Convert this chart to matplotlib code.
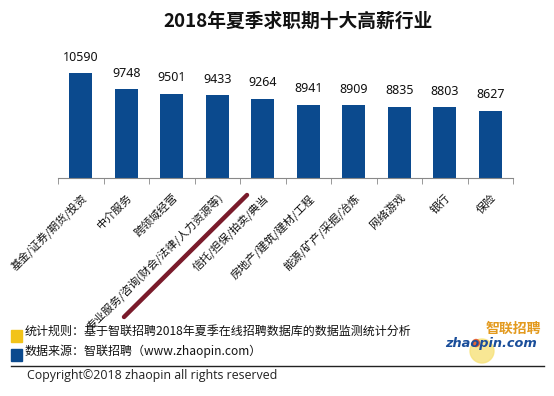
import matplotlib
matplotlib.use("Agg")
import matplotlib.pyplot as plt
from matplotlib.lines import Line2D
from matplotlib.patches import Rectangle, Ellipse

plt.rcParams['font.family'] = ['Noto Sans CJK SC', 'DejaVu Sans']

categories = ["基金/证券/期货/投资", "中介服务", "跨领域经营",
              "专业服务/咨询(财会/法律/人力资源等)", "信托/担保/拍卖/典当",
              "房地产/建筑/建材/工程", "能源/矿产/采掘/冶炼", "网络游戏", "银行", "保险"]
values = [10590, 9748, 9501, 9433, 9264, 8941, 8909, 8835, 8803, 8627]
title = "2018年夏季求职期十大高薪行业"
note1 = "统计规则：基于智联招聘2018年夏季在线招聘数据库的数据监测统计分析"
note2 = "数据来源：智联招聘（www.zhaopin.com）"
copyright_text = "Copyright©2018 zhaopin all rights reserved"

W, H = 554, 396
fig = plt.figure(figsize=(W/100, H/100), dpi=100)
fig.patch.set_facecolor('white')

def fx(px): return px / W
def fy(py): return 1 - py / H

ymin, ymax = 5078, 12000
ax_top_px = 178.3 - (ymax - ymin) * 0.01905
ax = fig.add_axes([fx(58), fy(178.3), fx(513) - fx(58), (178.3 - ax_top_px) / H])
x = list(range(len(categories)))
ax.bar(x, values, width=0.5, color='#0b4a8e')
ax.set_xlim(-0.5, len(categories) - 0.5)
ax.set_ylim(ymin, ymax)
for xi, v in zip(x, values):
    ax.annotate(f"{v}", (xi, v), xytext=(0, 7), textcoords='offset points',
                ha='center', va='bottom', fontsize=9, family=['Noto Sans', 'DejaVu Sans'],
                color='#111111')
for s in ['top', 'right', 'left']:
    ax.spines[s].set_visible(False)
ax.spines['bottom'].set_color('#888888')
ax.set_yticks([])
ax.set_xticks(x)
ax.set_xticklabels(categories, rotation=45, ha='right', rotation_mode='anchor',
                   fontsize=8, color='#111111')
ax.tick_params(axis='x', which='major', length=0, pad=10)
ax.set_xticks([i - 0.5 for i in range(len(categories) + 1)], minor=True)
ax.tick_params(axis='x', which='minor', length=4, color='#888888', direction='out')

fig.text(fx(298), fy(21), title, ha='center', va='center', fontsize=13.5,
         fontweight='bold', color='#111111')

# diagonal red line
fig.add_artist(Line2D([fx(247), fx(124)], [fy(195), fy(317)], transform=fig.transFigure,
                      color='#7a1b2b', linewidth=3.2, solid_capstyle='round'))

# legend squares and notes
fig.add_artist(Rectangle((fx(11), fy(341.5)), fx(11), 11.5/H, transform=fig.transFigure,
                         color='#f2c318'))
fig.add_artist(Rectangle((fx(11), fy(360.5)), fx(11), 11.5/H, transform=fig.transFigure,
                         color='#0b4a8e'))
fig.text(fx(25), fy(331), note1, ha='left', va='center', fontsize=8.65, color='#111111')
fig.text(fx(25), fy(351), note2, ha='left', va='center', fontsize=8.65, color='#111111')
fig.add_artist(Line2D([fx(11), fx(544)], [fy(366), fy(366)], transform=fig.transFigure,
                      color='#222222', linewidth=1))
fig.text(fx(27), fy(375), copyright_text, ha='left', va='center', fontsize=8.9,
         family=['Open Sans', 'DejaVu Sans'], color='#222222')

# logo
fig.add_artist(Ellipse((fx(482), fy(351)), 24/W, 24/H, transform=fig.transFigure,
                       color='#f7e27a', alpha=0.8))
fig.text(fx(541), fy(328.5), "智联招聘", ha='right', va='center', fontsize=10,
         fontweight='bold', style='italic', color='#e39a1e')
fig.text(fx(537), fy(344), "zhaopin.com", ha='right', va='center', fontsize=9.3,
         fontweight='bold', style='italic', family=['DejaVu Sans'], color='#1a4e9a')
fig.add_artist(Ellipse((fx(476), fy(343)), 7/W, 7/H, transform=fig.transFigure,
                       color='#e0522a', alpha=0.85))

fig.savefig("out.png", dpi=100, facecolor='white')
